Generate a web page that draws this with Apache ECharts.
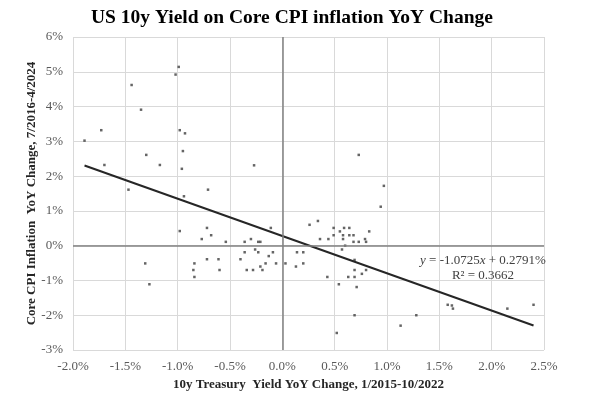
<!DOCTYPE html>
<html>
<head>
<meta charset="utf-8">
<script src="https://cdn.jsdelivr.net/npm/echarts@6/dist/echarts.min.js"></script>
<style>
  html, body { margin: 0; padding: 0; background: #fff; }
  #chart { width: 600px; height: 400px; }
</style>
</head>
<body>
<div id="chart"></div>
<script>
// 10y Treasury yield YoY change (x, %) vs core CPI YoY change (y, %)
const yieldChange = [
  -0.99, -1.02, -1.44, -1.35, -1.73, -1.89, -0.98, -0.93, -1.30, -0.95, -1.70, -1.17, -0.96, -1.47, -0.71, -0.94, -0.27,
  -0.98, -0.72, -0.77, -0.68, -0.54, -1.31, -1.27, -0.84, -0.85, -0.84, -0.72, -0.61, -0.60, -0.40,
  -0.11, -0.36, -0.30, -0.23, -0.21, -0.36, -0.26, -0.23, -0.09, -0.13, -0.16, -0.06, 0.03, -0.21, -0.19, -0.34, -0.28,
  0.14, 0.20, 0.13, 0.20,
  0.26, 0.34, 0.36, 0.44, 0.49, 0.55, 0.59, 0.64, 0.49, 0.58, 0.64, 0.68, 0.83, 0.58, 0.68, 0.73, 0.79, 0.80,
  0.60, 0.57, 0.69, 0.69, 0.80, 0.76, 0.43, 0.63, 0.69, 0.54, 0.71, 0.69, 0.52, 0.73, 0.97, 0.94,
  1.13, 1.28, 1.58, 1.62, 1.63, 2.15, 2.40
]
const cpiChange = [
  5.14, 4.92, 4.62, 3.91, 3.32, 3.02, 3.32, 3.23, 2.61, 2.72, 2.32, 2.32, 2.21, 1.61, 1.61, 1.42, 2.31,
  0.42, 0.51, 0.19, 0.30, 0.11, -0.51, -1.11, -0.51, -0.70, -0.90, -0.39, -0.39, -0.70, -0.39,
  0.51, 0.11, 0.19, 0.11, 0.11, -0.19, -0.11, -0.19, -0.19, -0.30, -0.51, -0.51, -0.51, -0.60, -0.70, -0.70, -0.70,
  -0.19, -0.19, -0.60, -0.51,
  0.60, 0.71, 0.19, 0.19, 0.51, 0.41, 0.51, 0.51, 0.30, 0.30, 0.30, 0.30, 0.41, 0.19, 0.11, 0.11, 0.19, 0.11,
  0.00, -0.11, -0.41, -0.70, -0.70, -0.81, -0.90, -0.90, -0.90, -1.11, -1.19, -2.00, -2.51, 2.61, 1.72, 1.12,
  -2.30, -2.00, -1.70, -1.72, -1.81, -1.81, -1.70
]

// linear trendline as printed on the chart
const slope = -1.0725
const intercept = 0.2791
const rSquared = 0.3662

const xTicks = { min: -2, max: 2.5, step: 0.5 }
const yTicks = { min: -3, max: 6, step: 1 }

const serif = '"Liberation Serif", "DejaVu Serif", serif'

const points = yieldChange.map((x, i) => [x, cpiChange[i]])
const xLo = Math.min(...yieldChange)
const xHi = Math.max(...yieldChange)
const trend = [xLo, xHi].map((x) => [x, slope * x + intercept])

const chart = echarts.init(document.getElementById('chart'))

chart.setOption({
  animation: false,
  title: {
    text: 'US 10y Yield on Core CPI inflation YoY Change',
    left: 86,
    top: 3,
    textStyle: { fontFamily: serif, fontSize: 19.5, fontWeight: 'bold', color: '#000' },
  },
  grid: { left: 73, right: 56, top: 37, bottom: 50 },
  xAxis: {
    type: 'value',
    min: xTicks.min,
    max: xTicks.max,
    interval: xTicks.step,
    name: '10y Treasury  Yield YoY Change, 1/2015-10/2022',
    nameLocation: 'middle',
    nameGap: 24,
    nameTextStyle: { fontFamily: serif, fontSize: 13, fontWeight: 'bold', color: '#262626' },
    axisLine: { show: false },
    axisTick: { show: false },
    axisLabel: {
      margin: 10,
      fontFamily: serif,
      fontSize: 13,
      color: '#595959',
      formatter: (v) => v.toFixed(1) + '%',
    },
    splitLine: { show: true, lineStyle: { color: '#d9d9d9', width: 1 } },
  },
  yAxis: {
    type: 'value',
    min: yTicks.min,
    max: yTicks.max,
    interval: yTicks.step,
    name: 'Core CPI Inflation  YoY Change, 7/2016-4/2024',
    nameLocation: 'middle',
    nameGap: 35,
    nameMoveOverlap: false,
    nameTextStyle: { fontFamily: serif, fontSize: 13, fontWeight: 'bold', color: '#262626' },
    axisLine: { show: false },
    axisTick: { show: false },
    axisLabel: {
      margin: 10,
      fontFamily: serif,
      fontSize: 13,
      color: '#595959',
      formatter: (v) => Math.round(v) + '%',
    },
    splitLine: { show: true, lineStyle: { color: '#d9d9d9', width: 1 } },
  },
  series: [
    {
      type: 'scatter',
      data: points,
      symbol: 'rect',
      symbolSize: 2.5,
      itemStyle: { color: '#3f3f3f' },
      z: 3,
      // dark zero lines, like the crossing axes in the original
      markLine: {
        silent: true,
        symbol: 'none',
        label: { show: false },
        lineStyle: { type: 'solid', color: '#808080', width: 1.5 },
        data: [{ xAxis: 0 }, { yAxis: 0 }],
      },
    },
    {
      type: 'line',
      data: trend,
      symbol: 'none',
      lineStyle: { color: '#262626', width: 2 },
      z: 4,
    },
  ],
  graphic: [
    {
      type: 'text',
      x: 483,
      y: 253,
      style: {
        text: '{i|y} = ' + slope.toFixed(4) + '{i|x} + ' + intercept.toFixed(4) + '%\nR² = ' + rSquared.toFixed(4),
        align: 'center',
        font: '13px ' + serif,
        fill: '#404040',
        lineHeight: 15,
        rich: {
          i: { fontStyle: 'italic', fontFamily: serif, fontSize: 13, fill: '#404040', color: '#404040' },
        },
      },
      z: 10,
    },
  ],
})
</script>
</body>
</html>
